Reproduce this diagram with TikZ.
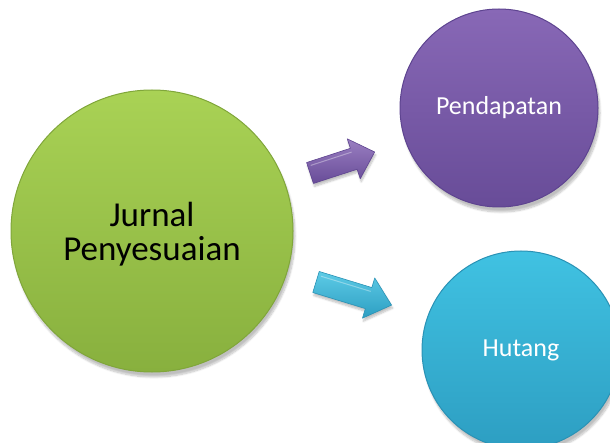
\documentclass[tikz,border=0pt]{standalone}
\usepackage{fontspec}
\setmainfont{Carlito}
\usetikzlibrary{shadows.blur}

\definecolor{greenTop}{HTML}{A9D255}
\definecolor{greenBot}{HTML}{88B03E}
\definecolor{greenRim}{HTML}{80A63A}
\definecolor{purpTop}{HTML}{8868B6}
\definecolor{purpBot}{HTML}{684C98}
\definecolor{purpRim}{HTML}{5E4490}
\definecolor{cyanTop}{HTML}{40C2E2}
\definecolor{cyanBot}{HTML}{2D9EC2}
\definecolor{cyanRim}{HTML}{2A92B5}

\tikzset{
  x=1pt, y=1pt,
  ball/.style={circle, inner sep=0pt, align=center,
    blur shadow={shadow xshift=2pt, shadow yshift=-5pt, shadow blur steps=10, shadow opacity=25}},
  bigball/.style={ball, minimum size=282pt, top color=greenTop, bottom color=greenBot,
    draw=greenRim, line width=1pt, text=black,
    font=\fontsize{35}{34}\selectfont},
  purpball/.style={ball, minimum size=198pt, top color=purpTop, bottom color=purpBot,
    draw=purpRim, line width=1pt, text=white,
    font=\fontsize{26}{30}\selectfont},
  cyanball/.style={ball, minimum size=198pt, top color=cyanTop, bottom color=cyanBot,
    draw=cyanRim, line width=1pt, text=white,
    font=\fontsize{26}{30}\selectfont},
  blockarrow/.style={line width=0.6pt, line join=round,
    blur shadow={shadow xshift=1pt, shadow yshift=-3pt, shadow blur steps=6, shadow opacity=25}}
}

\begin{document}
\begin{tikzpicture}
\useasboundingbox (0,0) rectangle (610,442);

% circles
\node[bigball]  (jurnal) at (152,211) {};
\node[font=\fontsize{35}{34}\selectfont, align=center, inner sep=0pt]
  (jurnaltext) at ([yshift=-3pt]jurnal.center) {Jurnal\\Penyesuaian};
\node[purpball] (pend)   at (499,334) {Pendapatan};
\node[cyanball] (hut)    at (521,92)  {Hutang};

% block arrows between the circles
\coordinate (pa) at (310,269);
\coordinate (ca) at (316,160);

\begin{scope}[shift={(pa)}, rotate=18]
  \draw[blockarrow, draw=purpRim, top color=purpTop!85!white, bottom color=purpBot]
    (0,-11) -- (46,-11) -- (46,-21) -- (68,0) -- (46,21) -- (46,11) -- (0,11) -- cycle;
  \draw[white, opacity=0.35, line width=1pt] (3,7) -- (46,7);
\end{scope}

\begin{scope}[shift={(ca)}, rotate=-17]
  \draw[blockarrow, draw=cyanRim, top color=cyanTop!85!white, bottom color=cyanBot]
    (0,-11) -- (55,-11) -- (55,-21) -- (79,0) -- (55,21) -- (55,11) -- (0,11) -- cycle;
  \draw[white, opacity=0.35, line width=1pt] (3,7) -- (55,7);
\end{scope}
\end{tikzpicture}
\end{document}
